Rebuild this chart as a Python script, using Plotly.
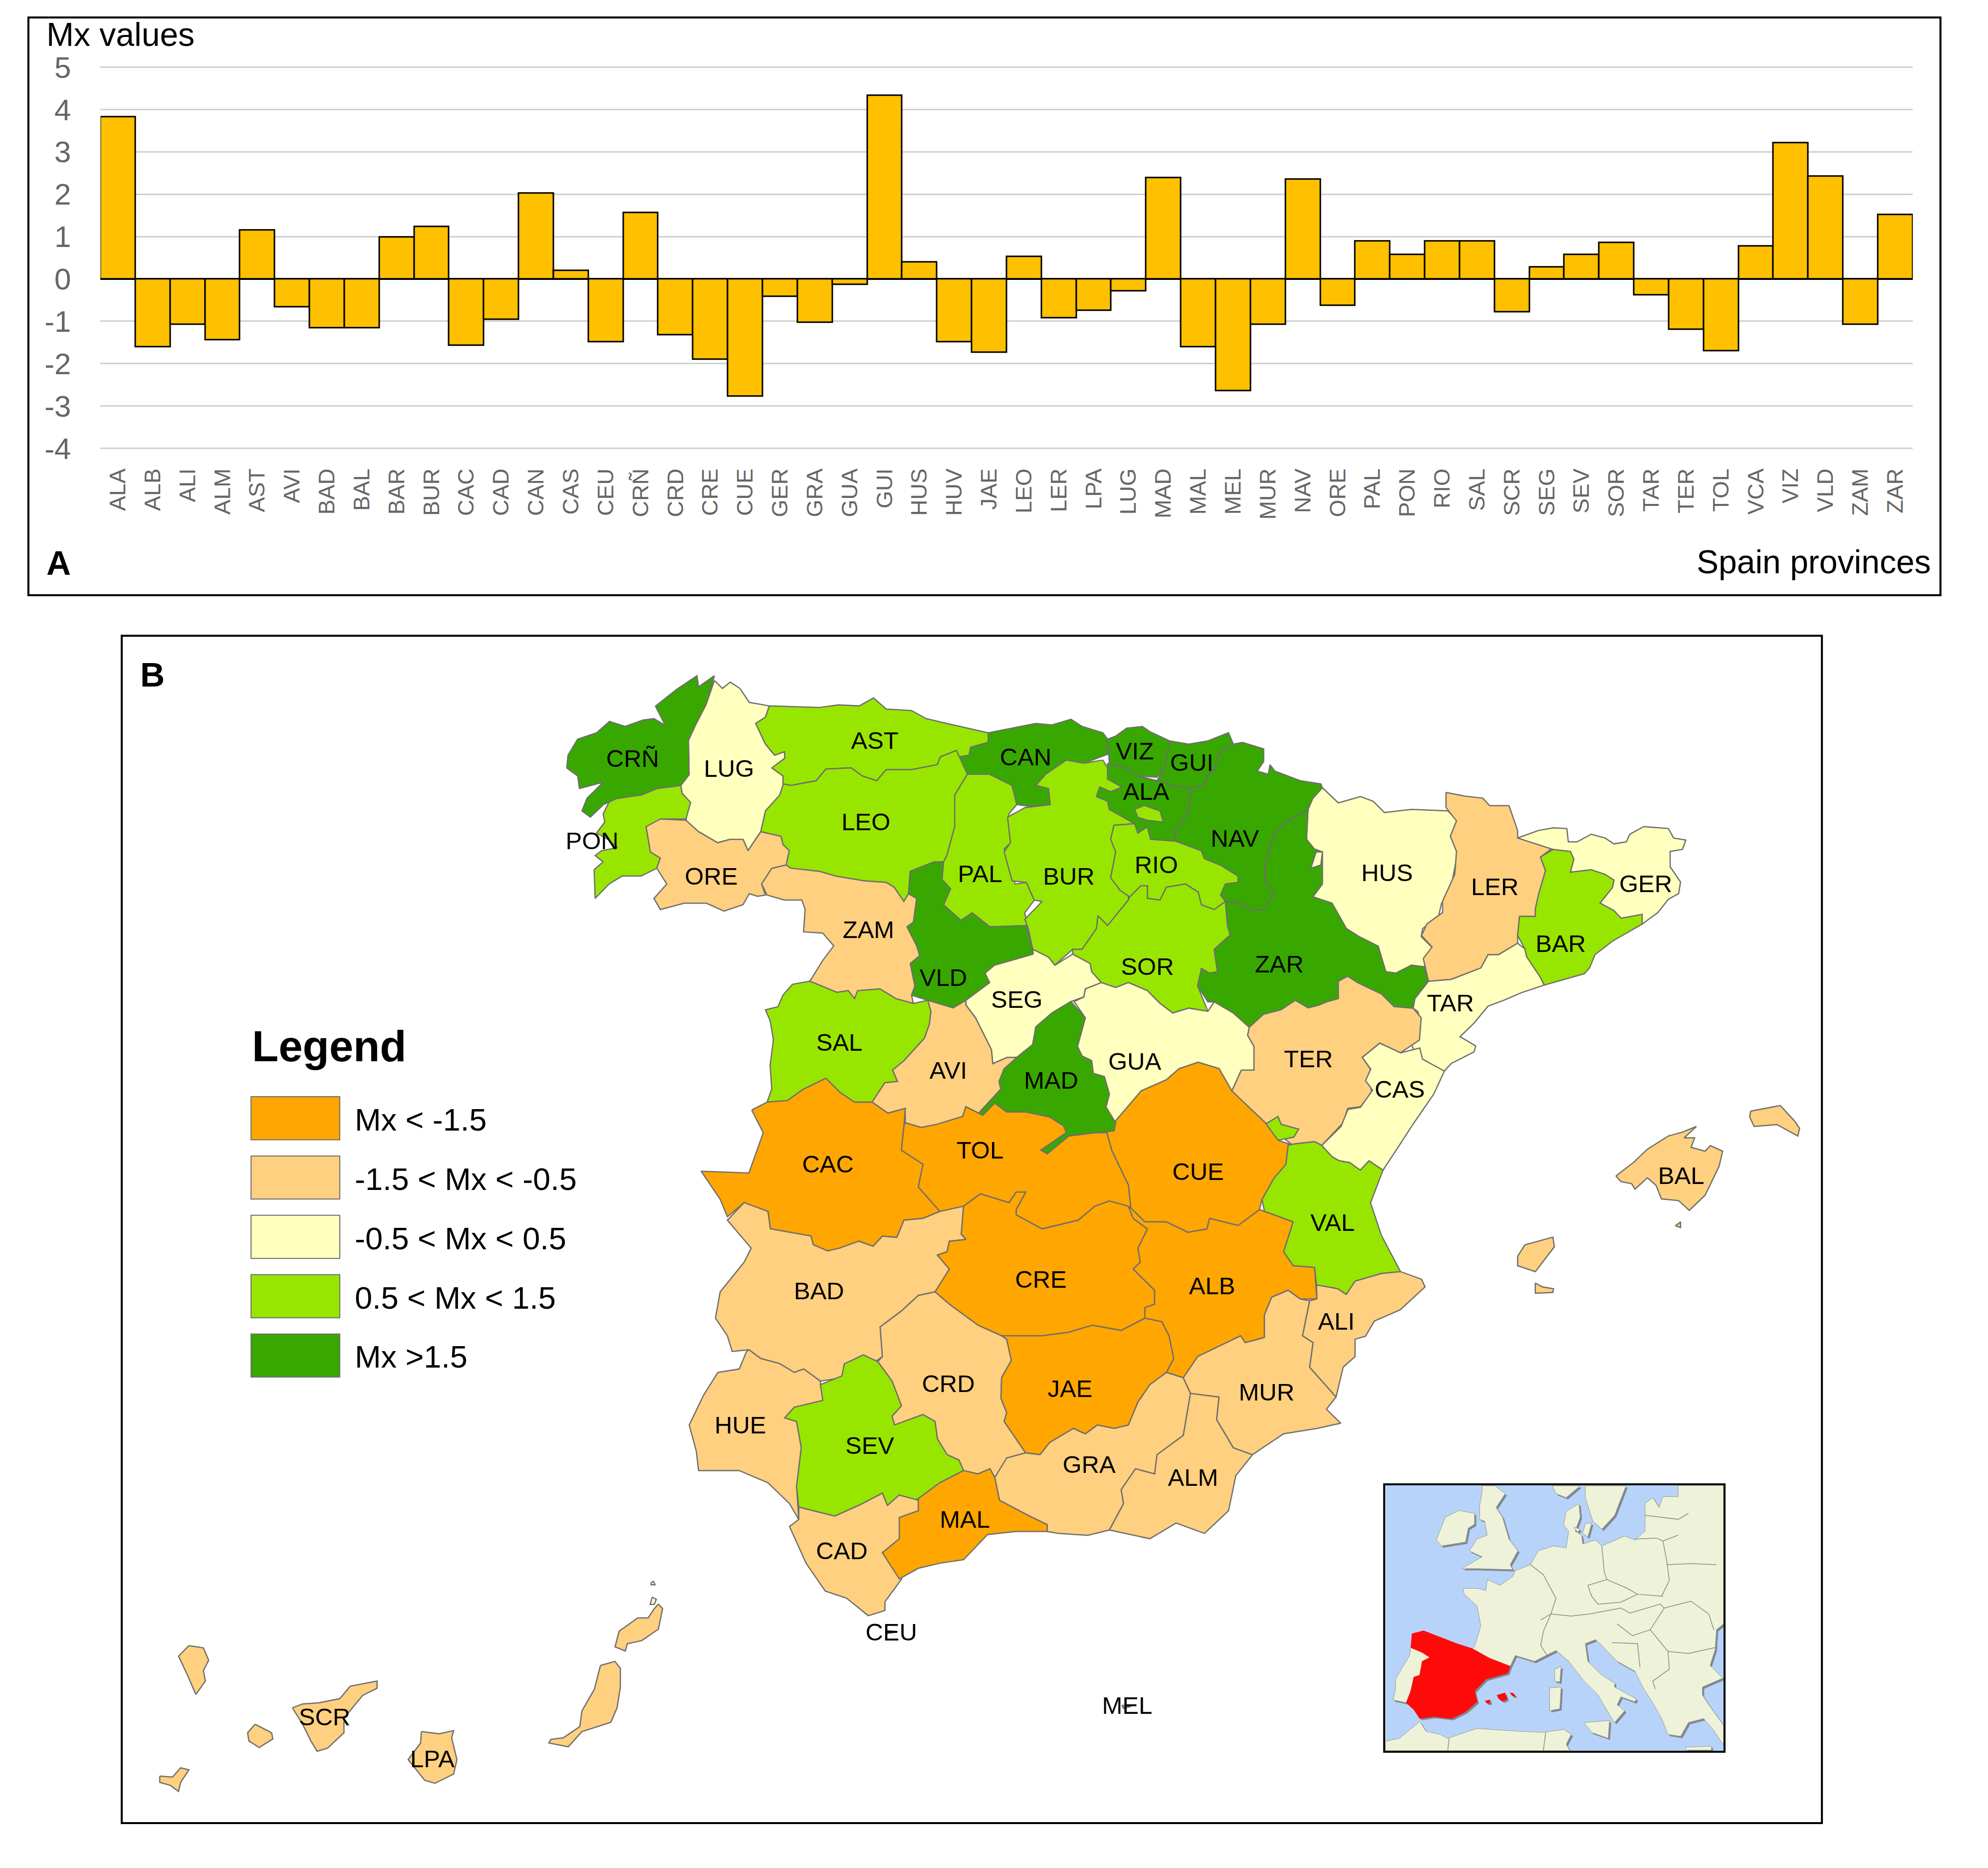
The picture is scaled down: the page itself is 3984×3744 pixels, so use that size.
import plotly.graph_objects as go

FONT = "Liberation Sans"

# Panel A: Mx value per province
PROVINCES = ["ALA", "ALB", "ALI", "ALM", "AST", "AVI", "BAD", "BAL", "BAR", "BUR", "CAC", "CAD", "CAN",
             "CAS", "CEU", "CRÑ", "CRD", "CRE", "CUE", "GER", "GRA", "GUA", "GUI", "HUS", "HUV", "JAE",
             "LEO", "LER", "LPA", "LUG", "MAD", "MAL", "MEL", "MUR", "NAV", "ORE", "PAL", "PON", "RIO",
             "SAL", "SCR", "SEG", "SEV", "SOR", "TAR", "TER", "TOL", "VCA", "VIZ", "VLD", "ZAM", "ZAR"]
MX_VALUES = [3.83, -1.60, -1.07, -1.44, 1.15, -0.66, -1.15, -1.15, 0.99, 1.24, -1.57, -0.95, 2.02,
             0.20, -1.48, 1.57, -1.32, -1.90, -2.77, -0.41, -1.03, -0.13, 4.33, 0.40, -1.48, -1.73,
             0.53, -0.92, -0.74, -0.28, 2.39, -1.60, -2.64, -1.07, 2.35, -0.62, 0.90, 0.58, 0.90,
             0.90, -0.78, 0.28, 0.58, 0.86, -0.38, -1.19, -1.70, 0.78, 3.21, 2.43, -1.07, 1.52]
Y_TICKS = [-4, -3, -2, -1, 0, 1, 2, 3, 4, 5]
Y_TICK_TEXT = ["-4", "-3", "-2", "-1", "0", "1", "2", "3", "4", "5"]

# Panel B: legend classes
LEGEND_LABELS = ["Mx < -1.5", "-1.5 < Mx < -0.5", "-0.5 < Mx < 0.5", "0.5 < Mx < 1.5", "Mx >1.5"]
LEGEND_COLORS = ["#FFA600", "#FFD07F", "#FFFFBE", "#98E600", "#38A800"]
CLASS_LIMITS = [-1.5, -0.5, 0.5, 1.5]

# Province outlines, digitised in map units
CRN = [(563.5,533),(557,555.5),(548.5,572),(543,584),(543.5,611),(537,619.5),(518,622),(506,627),(486,630),(476,634.6),(465.6,644.6),(459,639.6),(463,629.6),(475.7,617),(457,622),(455.6,612),(447,605.7),(448,595.7),(455.6,583),(470.6,578),(480.7,569),(493,573),(507,568),(515.8,566.8),(524.6,572),(517,557),(533.4,544),(549.7,533),(551,541.7)]
LUG = [(563.5,536.7),(569.8,543),(576,538),(583.6,543),(591,554),(606.7,556.8),(603.7,565.6),(596,570.6),(603.7,587),(611,595.7),(618.7,593),(619,598),(608.7,605.7),(617.5,612),(617.5,619.5),(615,627),(603.7,639.6),(600,656),(590,671),(586,662),(576,662),(566,664.7),(551,656),(541,649.7),(542,637),(544.7,633),(538,625.8),(537,619.5),(543.5,611),(543,584),(548.5,572),(557,555.5)]
PON = [(537,619.5),(538,625.8),(544.7,633),(541,646),(523.4,646),(509.6,652),(513,672),(520.8,676.8),(518,684.8),(505.8,691),(490.7,691),(480.7,697),(469.4,708.6),(468.6,686),(475.7,679.8),(469.4,674.8),(474.4,671),(487,668.5),(479.4,662),(470.6,657),(477,648.4),(475.7,642),(480.7,632),(487,628),(506,627),(518,622)]
ORE = [(509.6,652),(520.8,646),(541,647),(551,656),(566,664.7),(576,662),(586,662),(590,671),(600,656),(616,659.7),(617.5,666),(622.5,671),(620,682.3),(608.7,685),(600.7,697.3),(603.7,706),(597.4,707),(591,704.9),(586,713.6),(571,718.7),(557.2,712.4),(539.7,712.4),(520.8,717.4),(515.8,708.6),(525.9,697.3),(518,684.8),(520.8,676.8),(513,672)]
AST = [(606.7,556.8),(646.4,558),(661.4,556),(677.7,556.8),(689,550.5),(699,559.3),(719,560.5),(730.4,566.8),(746.8,570.6),(779.4,578),(779.4,585.6),(765.6,589.4),(764.3,595.7),(756.8,597),(754.3,591.9),(741.7,597),(739.2,603.2),(719,607),(699,607),(691.5,615.8),(680,612),(671.5,605.7),(651.4,606.5),(643.8,615.8),(623.8,619.5),(617.5,618.3),(617.5,612),(608.7,605.7),(619,598),(618.7,593),(611,595.7),(603.7,587),(596,570.6),(603.7,565.6)]
LEO = [(617.5,618.3),(623.8,619.5),(643.8,615.8),(651.4,606.5),(671.5,605.7),(680,612),(691.5,615.8),(699,607),(719,607),(739.2,603.2),(741.7,597),(754.3,591.9),(756.8,597),(763,610.7),(753,627),(753,652),(746.8,674.8),(744.2,679.8),(736.7,679.8),(717.9,687.3),(716.6,704.9),(712.9,711),(705.3,699.9),(699,696),(681.5,694.8),(659,691),(646.4,687.3),(623.8,684.8),(620,682.3),(622.5,671),(617.5,666),(616,659.7),(600,656),(603.7,639.6),(615,627)]
ZAM = [(620,682.3),(623.8,684.8),(646.4,687.3),(659,691),(681.5,694.8),(699,696),(705.3,699.9),(712.9,711),(716.6,704.9),(723,708.6),(720.4,727.5),(715.4,731),(723,746),(725.4,753.8),(718,760),(721.6,777.7),(719,785),(720.4,791.5),(706.6,787.7),(694,780),(676.5,781.4),(674,787.7),(669,781.4),(660,782.7),(638.8,773.9),(648.9,757.6),(657.6,746),(648.9,736),(633.8,735),(635,717.4),(632.5,709.9),(618.7,709.9),(605,706),(600.7,697.3),(608.7,685)]
VLD = [(717.9,687.3),(736.7,679.8),(744.2,679.8),(743,693.6),(749.7,701),(744.2,713.7),(758,726),(766.8,720),(780.6,731),(809.5,730),(815,752.6),(784.4,761.3),(776.9,767.6),(780.6,775),(761.8,789),(751.8,795),(731.7,789),(719,785),(721.6,777.7),(718,760),(725.4,753.8),(723,746),(715.4,731),(720.4,727.5),(723,708.6),(716.6,704.9)]
PAL = [(763,610.7),(780.6,610.7),(798.2,619.5),(802,634.6),(795.7,642),(797,664.7),(792,669.7),(800.7,697.3),(809.5,696),(815.8,710),(808.2,720),(810.8,731),(780.6,731),(766.8,720),(758,726),(744.2,713.7),(749.7,701),(743,693.6),(744.2,679.8),(746.8,674.8),(753,652),(753,627)]
CAN = [(779.4,578),(817,570.6),(829.7,571.8),(844.7,567.3),(853.5,573),(869.9,578),(873.6,583),(873.6,595),(854.8,602),(841,599.5),(824.7,610.7),(817,619.5),(827,622),(828.4,634.6),(812,636),(802,634.6),(798.2,619.5),(780.6,610.7),(763,610.7),(756.8,597),(764.3,595.7),(765.6,589.4),(779.4,585.6)]
BUR = [(869.9,599.5),(873.6,605.7),(873.6,614.5),(885,620.8),(876,624.6),(867.4,620.8),(864.8,628.3),(873.6,632),(875,638.4),(895,649.7),(878.6,650.9),(876,662),(880,672),(876,692.3),(883.6,702.4),(890,704.9),(890,709.9),(873.6,730),(866,722.4),(864.8,732.5),(853.5,748.8),(846,748.8),(832,761.3),(827,755),(814.6,748.8),(811,732.5),(808.4,725),(822,711),(815.8,710),(809.5,696),(798.3,694.8),(792,672),(797,664.7),(794.7,644.6),(808.4,637),(828.4,634.6),(827,622),(817,619.5),(824.7,610.7),(841,599.5),(854.8,602)]
RIO = [(878.6,650.9),(895,649.7),(897.4,657),(905,652.2),(907.5,662),(927.6,663.5),(947.6,671),(950,677.3),(962.7,682.3),(976.5,691),(976.5,696),(966.5,697.3),(962.7,706),(966.5,711),(957.7,717.4),(947.6,713.7),(945,703.6),(935,697.3),(920,699.8),(915,709.9),(905,708.6),(905,698.6),(900,698.6),(891,707.4),(883.6,702.4),(876,692.3),(880,672),(876,662)]
SOR = [(890,709.9),(891,707.4),(900,698.6),(905,698.6),(905,708.6),(915,709.9),(920,699.8),(935,697.3),(945,703.6),(947.6,713.7),(957.7,717.4),(966.5,711),(968.2,730),(970.3,737.5),(957.7,748.8),(960.2,766.4),(954,767.6),(947.6,763.9),(944.6,777.7),(952.7,797.7),(937.6,795.2),(925,799),(915,791.5),(905,781.4),(890,775),(880,778.9),(868.6,775),(861,766.4),(859.8,760),(846,752.6),(846,748.8),(853.5,748.8),(864.8,732.5),(866,722.4),(873.6,730)]
ALA = [(873.6,602),(887.4,605.7),(897.4,612),(912.5,615.8),(925,619.5),(939,622),(937.6,639.6),(926.4,656),(927.6,663.5),(907.5,662),(905,652.2),(897.4,657),(895,649.7),(875,638.4),(873.6,632),(864.8,628.3),(867.4,620.8),(876,624.6),(885,620.8),(873.6,614.5)]
TREVINO = [(895,638.4),(902.5,635.3),(915,639.6),(917.5,648.4),(905,647),(897.4,644.6)]
VIZ = [(873.6,583),(880,580.6),(888.7,574.4),(901,573),(907.5,577.4),(922.5,584.4),(919,604.5),(912.5,613),(897.4,612),(887.4,605.7),(875,602)]
GUI = [(922.5,584.4),(937.6,587),(952.7,584.4),(969,578),(972.8,587),(961.5,594.4),(957.7,607),(952.7,610.7),(950,618.3),(939,622),(925,619.5),(912.5,615.8),(919,604.5)]
NAV = [(972.8,587),(980,585.6),(996.7,590.7),(996.7,600.7),(991.6,608.2),(1000.4,610.7),(1001.7,603.2),(1005.5,608.2),(1025.5,615.8),(1041.8,618.3),(1043,621.3),(1035.5,629.6),(1031.7,638.4),(1014,648.4),(1005.4,657),(1001.6,669.7),(997.8,682.3),(997.8,694.8),(1005,704.9),(996.7,717.4),(987.8,717.9),(979,712.4),(966.5,711),(962.7,706),(966.5,697.3),(976.5,696),(976.5,691),(962.7,682.3),(950,677.3),(947.6,671),(927.6,663.5),(926.4,656),(937.6,639.6),(939,622),(950,618.3),(952.7,610.7),(957.7,607),(961.5,594.4)]
ZAR = [(1031.7,638.4),(1030.5,662),(1036.7,669.7),(1043,672),(1043,697.3),(1035.5,707.4),(1050.6,712.4),(1062,732.5),(1072,738.8),(1087,746.3),(1093,766.4),(1100.8,767.6),(1113.3,761.3),(1123.3,762.6),(1126.4,773.9),(1116,787.7),(1114.6,795.2),(1099.6,794),(1089.5,784),(1070.7,775),(1063,770),(1055.6,773.9),(1055.6,787.7),(1047,790),(1040.6,792.7),(1031.8,795),(1021.7,789),(1010.4,796.5),(996.6,800),(985.3,810.3),(972.7,799),(957.7,790.2),(952.7,790.2),(944.6,777.7),(947.6,763.9),(954,767.6),(960.2,766.4),(957.7,748.8),(970.3,737.5),(968.2,730),(966.5,711),(979,712.4),(987.8,717.9),(996.7,717.4),(1005,704.9),(997.8,694.8),(997.8,682.3),(1001.6,669.7),(1005.4,657),(1014,648.4)]
HUS = [(1043,621.3),(1055.6,633.3),(1073,628.3),(1083,632),(1092,640.9),(1113.3,638.4),(1142,639.6),(1149,647),(1144.7,659.7),(1149.8,672),(1143.5,704.9),(1137,712.4),(1134.7,722.4),(1122,732.5),(1121,738.8),(1129.7,747.5),(1123.3,762.6),(1113.3,761.3),(1100.8,767.6),(1093,766.4),(1087,746.3),(1072,738.8),(1062,732.5),(1050.6,712.4),(1035.5,707.4),(1043,697.3),(1043,672),(1036.7,669.7),(1030.5,662),(1031.7,638.4),(1035.5,629.6)]
HUS_ENCLAVE = [(1034,684.8),(1038,672),(1043,672),(1041.8,682.3)]
LER = [(1140.5,625),(1155.7,628),(1169.5,629.5),(1175,635.5),(1190.2,635.5),(1197,655),(1197,661),(1213.7,655),(1223.4,662.6),(1224.8,668.6),(1215,676),(1219,686.7),(1213.7,704.8),(1211,716.8),(1211,722.8),(1198.5,722.8),(1197,737.9),(1197,744),(1182,753),(1173.7,753),(1168,763.5),(1144.7,772.5),(1126.7,774),(1122.6,756),(1129.5,747),(1121.2,737.9),(1125.4,728.8),(1137.8,719.8),(1137.8,710.8),(1147.4,689.7),(1148.8,671.6),(1143.9,659.6),(1148.8,647.5),(1140.5,637)]
GER = [(1197,661),(1213.7,655),(1225,653),(1235.8,653.5),(1237,664),(1244,664),(1255,658),(1266,661),(1273,665.6),(1282.7,664),(1285.5,658),(1296.5,652),(1315.9,653.5),(1320,661),(1329.7,662.6),(1327,670),(1317.3,671.6),(1317.3,683.7),(1325.5,695.7),(1324,704.8),(1315.9,709.3),(1307.6,719.8),(1295.2,728.9),(1295.2,721.3),(1278.6,724.3),(1273,718.3),(1262,712.3),(1271.7,700.2),(1273,694.2),(1266,689.7),(1255,686),(1238.6,688),(1241.3,677.6),(1238.6,671.6),(1224.8,670)]
BAR = [(1215,676),(1224.8,670),(1238.6,671.6),(1241.3,677.6),(1238.6,688),(1255,686),(1266,689.7),(1273,694.2),(1271.7,700.2),(1262,712.3),(1273,718.3),(1278.6,724.3),(1295.2,721.3),(1295.2,728.9),(1271.7,742.4),(1258,753),(1253.7,763.5),(1249.6,768),(1217.9,777),(1215,771),(1204,754.5),(1202.7,748.4),(1197,737.9),(1198.5,722.8),(1211,722.8),(1211,716.8),(1213.7,704.8),(1219,686.7)]
TAR = [(1126.7,774),(1144.7,772.5),(1168,763.5),(1173.7,753),(1182,753),(1197,744),(1202.7,748.4),(1204,754.5),(1215,771),(1217.9,777),(1200,783),(1186,789),(1173.7,793.6),(1162.6,807),(1151.6,817.7),(1164,825),(1162.6,829.7),(1144.7,838.8),(1139.2,844.8),(1119.8,837.3),(1113,823.7),(1120.4,811.7),(1118.5,798),(1114.6,795.2),(1116,787.7)]
TER = [(985.3,810.3),(996.6,800),(1010.4,796.5),(1021.7,789),(1031.8,795),(1040.6,792.7),(1047,790),(1055.6,787.7),(1055.6,773.9),(1063,770),(1070.7,775),(1089.5,784),(1099.6,794),(1114.6,795.2),(1120.9,802.8),(1119.6,820.3),(1104.6,830.4),(1088.3,822.8),(1074.5,834),(1080.7,843),(1080.7,855.5),(1082,861.7),(1073,873),(1063,874.3),(1059.4,885.6),(1042.5,903.5),(1037,900.5),(1023,902),(1019,903),(998,885.6),(971.6,860.5),(979,844),(989,844),(989,825.3),(984,816.6)]
VAL_ADEMUZ = [(998,886.8),(1008,880.6),(1010.5,886.8),(1024.3,890.6),(1020.5,896.9),(1008,899.4),(1001.6,894.4)]
CAS = [(1074.5,834),(1088.3,822.8),(1104.6,830.4),(1119.8,826.6),(1122,835.4),(1139.2,844.8),(1130.9,862.9),(1122.6,875),(1114.3,887),(1104.6,902),(1090.8,923),(1079.8,915.6),(1072.9,923),(1064.6,917),(1056.3,915.6),(1050.8,912.6),(1042.5,903.5),(1057.7,888.5),(1063.2,875),(1073,873.4),(1082.6,859.9),(1077,852.3),(1081.2,843.3)]
VAL = [(1023.2,902),(1037,900.5),(1042.5,903.5),(1050.8,912.6),(1056.3,915.6),(1064.6,917),(1072.9,923),(1079.8,915.6),(1090.8,923),(1081,948.7),(1089.5,974.3),(1104.6,1003),(1089.5,1004.5),(1068.8,1010.5),(1061.9,1021),(1055,1016.5),(1038.4,1013.5),(1036.8,999.7),(1019.9,998.3),(1012.4,987.3),(1019.9,963.8),(997.3,955.5),(995.4,945.9),(1004.8,929.3),(1014.2,918.3),(1016,903)]
CUE = [(878.6,885.6),(900,860.5),(920,851.7),(930,842.9),(945,837.9),(961.5,842.9),(971.6,860.5),(998,885.6),(1008,899.4),(1019,903),(1016,903),(1014.2,918.3),(1004.8,929.3),(995.4,945.9),(993.5,954),(976.6,966.6),(954,961),(952,969.3),(937,972),(920,963.8),(903,963.8),(891.9,952.8),(890,934.8),(876.8,907.2),(873,893.4)]
GUA = [(868.6,775),(856,780),(854.8,786.4),(847.2,790),(856,802.8),(852.3,816.6),(849.8,825.4),(853.5,833),(861,836.6),(862.3,846.7),(871,849.2),(875,863),(872.3,873),(878.6,885.6),(884,884),(897.5,875.5),(900,860.5),(920,851.7),(930,842.9),(945,837.9),(961.5,842.9),(971.6,860.5),(979,844),(989,844),(989,825.3),(984,816.6),(985.3,810.3),(972.7,799),(957.7,790.2),(952.7,797.7),(937.6,795.2),(925,799),(915,791.5),(905,781.4),(890,775),(880,778.9)]
MAD = [(844.7,790),(856,802.8),(852.3,816.6),(849.8,825.4),(853.5,833),(861,836.6),(862.3,846.7),(871,849.2),(875,863),(872.3,873),(880,885.6),(878.7,892),(863.6,893.4),(843,896),(826,910),(821,907.2),(841,893.4),(839,888),(827.9,881),(809,877),(794,877),(784.6,870),(775,879.6),(771.9,878),(789.4,859),(788,853),(792,843),(802,834),(814.5,824),(817,810),(829.7,799)]
SEG = [(815,752.6),(814.6,748.8),(827,755),(832,761.3),(846,752.6),(859.8,760),(861,766.4),(868.6,775),(856,780),(854.8,786.4),(844.7,790),(829.7,799),(817,810),(814.5,824),(802,834),(794.5,834),(783,839),(782,828),(774.4,812.8),(769.4,802.8),(761.8,792.7),(761.8,789),(780.6,775),(776.9,767.6),(784.4,761.3)]
AVI = [(731.7,789),(751.8,795),(761.8,789),(761.8,792.7),(769.4,802.8),(774.4,812.8),(782,828),(783,839),(794.5,834),(800.7,834),(799.5,841.7),(792,843),(788,853),(789.4,859),(771.9,878),(761.8,873),(759.3,880.6),(739.2,886.8),(726.6,889.3),(714,885.6),(714,874.3),(700.3,878),(687.8,869.3),(697.8,854),(707.8,853),(704,844),(712.9,836.6),(729,819),(733,807.8),(734.2,797.7)]
SAL = [(638.8,773.9),(660,782.7),(669,781.4),(674,787.7),(676.5,781.4),(694,780),(706.6,787.7),(720.4,791.5),(731.7,789),(734.2,797.7),(733,807.8),(729,819),(712.9,836.6),(704,844),(707.8,853),(697.8,854),(687.8,869.3),(674,869.3),(662.7,861.8),(651.4,850.5),(633.8,859),(621.2,868),(605,869.3),(608.7,859),(607.4,840.4),(610,820),(607.4,805),(603.7,796.5),(613.7,794),(617.5,785),(625,776.4)]
CAC = [(592.9,875.6),(605,869.3),(621.2,868),(633.8,859),(651.4,850.5),(662.7,861.8),(674,869.3),(687.8,869.3),(700.3,878),(714,874.3),(713,887.9),(711,907.2),(728,918.3),(724.3,936.2),(741.3,955.5),(728,961),(713,962.4),(707.4,976),(696,975),(688.6,983),(677.3,979),(662.2,984.5),(652.8,986.7),(641.5,981.8),(639.6,974.9),(607.6,969.3),(605.7,955.5),(586.9,948.6),(573.7,959.7),(568,945.9),(553,923.8),(590.7,925.2),(602,893.4)]
TOL = [(713,887.9),(714,885.6),(726.6,889.3),(739.2,886.8),(759.3,880.6),(761.8,873),(771.9,878),(775,879.6),(784.6,870),(794,877),(809,877),(827.9,881),(839,888),(841,893.4),(821,907.2),(826,910),(843,896),(863.6,893.4),(873,893.4),(876.8,907.2),(890,934.8),(891.9,952.8),(875,947.3),(863.6,951.4),(850.5,962.4),(822,969.3),(801.5,958.3),(801.5,954),(809,940.3),(801.5,940.3),(795.9,948.6),(773.3,941.7),(760,951.4),(743,957),(741.3,955.5),(724.3,936.2),(728,918.3),(711,907.2)]
BAD = [(586.9,948.6),(605.7,955.5),(607.6,969.3),(639.6,974.9),(641.5,981.8),(652.8,986.7),(662.2,984.5),(677.3,979),(688.6,983),(696,975),(707.4,976),(713,962.4),(728,961),(741.3,955.5),(760,951.4),(758.2,973.5),(762,977.6),(748.8,979),(747,987.3),(739.4,990),(748.8,1001),(737.5,1019),(724.3,1021.8),(711,1034),(694.2,1046.6),(696,1070),(690.4,1074),(681,1068.7),(669.7,1074),(664,1086.7),(647,1089.4),(634,1079.8),(626.4,1082.5),(615,1075.6),(600,1071.5),(590.7,1064.6),(577.5,1066),(573.7,1053.6),(564.3,1039.7),(568,1019),(586.9,995.6),(592.5,984.5),(573.7,962.4)]
CRE = [(760,951.4),(773.3,941.7),(795.9,948.6),(801.5,940.3),(809,940.3),(801.5,954),(801.5,958.3),(822,969.3),(850.5,962.4),(863.6,951.4),(875,947.3),(890,951.4),(893.8,961),(905,969.3),(897.5,984.5),(899.4,995.6),(893.8,1001),(910.7,1017.7),(910.7,1028.7),(903,1031.5),(903,1039.7),(884.3,1049.4),(861.7,1045.3),(842.9,1050.8),(822.2,1053.6),(790,1053.6),(771.4,1045.3),(748.8,1028.7),(737.5,1019),(748.8,1001),(739.4,990),(747,987.3),(748.8,979),(762,977.6),(758.2,973.5)]
ALB = [(890,951.4),(891.9,952.8),(903,963.8),(920,963.8),(937,972),(952,969.3),(954,961),(976.6,966.6),(993.5,954),(997.3,955.5),(1019.9,963.8),(1012.4,987.3),(1019.9,998.3),(1036.8,999.7),(1038.7,1024.6),(1025.5,1024.6),(1016,1017.7),(1003,1023.2),(997.3,1037),(997.3,1055),(982.2,1059),(978.5,1053.6),(944.6,1070),(933.3,1086.7),(920,1082.5),(925.7,1071.5),(922,1053.6),(916.3,1042.5),(903,1039.7),(903,1031.5),(910.7,1028.7),(910.7,1017.7),(893.8,1001),(899.4,995.6),(897.5,984.5),(905,969.3),(893.8,961)]
JAE = [(790,1053.6),(822.2,1053.6),(842.9,1050.8),(861.7,1045.3),(884.3,1049.4),(903,1039.7),(916.3,1042.5),(922,1053.6),(925.7,1071.5),(920,1082.5),(906.9,1092.2),(897.5,1106),(890,1124),(878.7,1126.7),(865.5,1124),(856,1131),(846.7,1126.7),(827.9,1137.8),(820.3,1147.4),(809,1146),(792,1121.2),(794,1114.3),(789.5,1103),(790,1086.7),(797.7,1073),(794,1056.3)]
CRD = [(737.5,1019),(748.8,1028.7),(771.4,1045.3),(790,1053.6),(794,1056.3),(797.7,1073),(790,1086.7),(789.5,1103),(794,1114.3),(792,1121.2),(809,1146),(794,1150),(790,1158.5),(784.6,1165.4),(780.8,1158.5),(771.4,1162.6),(760,1159.9),(756.3,1151.6),(747,1147.4),(739.4,1135),(737.5,1121.2),(728,1115.7),(705.5,1124),(703.6,1117),(711,1108.8),(703.6,1089.4),(692.3,1074),(696,1070),(694.2,1046.6),(711,1034),(724.3,1021.8)]
SEV = [(669.7,1074),(681,1068.7),(692.3,1074),(703.6,1089.4),(711,1108.8),(703.6,1117),(705.5,1124),(728,1115.7),(737.5,1121.2),(739.4,1135),(747,1147.4),(756.3,1151.6),(760,1159.9),(741.3,1169.5),(724.3,1182),(714.9,1187.4),(709.3,1179.2),(699.9,1187.4),(696,1177.8),(677.3,1187.4),(658.4,1195.8),(630,1188.8),(628.3,1172.3),(632,1142),(628.3,1121.2),(618.9,1118.4),(626.4,1110),(649,1104.6),(647,1092.2),(664,1085.3),(666,1075.6)]
HUE = [(590.7,1064.6),(600,1071.5),(615,1075.6),(626.4,1082.5),(634,1079.8),(647,1089.4),(649,1104.6),(626.4,1110),(618.9,1118.4),(628.3,1121.2),(632,1142),(628.3,1172.3),(630,1198.5),(622.7,1186),(605.7,1169.5),(583,1159.9),(551,1159.9),(549.2,1144.7),(543.6,1124),(554.9,1100.5),(566.2,1082.5),(583.1,1079.8),(588.8,1066)]
CAD = [(630,1188.8),(658.4,1195.8),(677.3,1187.4),(696,1177.8),(699.9,1187.4),(709.3,1179.2),(724.3,1183.3),(724.3,1191.6),(709.3,1197),(709.3,1213.7),(696,1224.7),(703.6,1230.2),(711.2,1245.4),(698,1263.4),(698,1270.3),(684.8,1274.4),(667.8,1260.6),(650.9,1255),(635.8,1233),(632,1224.7),(622.7,1204),(630,1198.5)]
MAL = [(760,1159.9),(771.4,1162.6),(780.8,1158.5),(784.6,1165.4),(788.3,1183.3),(809,1194.3),(826,1202.6),(826,1208),(801.5,1208),(778.9,1210.4),(760,1230.2),(741.3,1233),(724.3,1237),(709.3,1245.4),(696,1224.7),(709.3,1213.7),(709.3,1197),(724.3,1191.6),(724.3,1182),(741.3,1169.5)]
GRA = [(784.6,1165.4),(794,1150),(809,1146),(820.3,1147.4),(827.9,1137.8),(846.7,1126.7),(856,1131),(865.5,1124),(878.7,1126.7),(890,1124),(897.5,1106),(906.9,1092.2),(920,1082.5),(933.3,1086.7),(939,1099),(933.3,1132.2),(912.6,1147.4),(910.7,1162.6),(895.6,1158.5),(884.3,1175),(886.2,1186),(875,1206.8),(858,1211),(835.4,1209.5),(826,1208),(826,1202.6),(809,1194.3),(788.3,1183.3)]
ALM = [(939,1099),(961.5,1101.9),(959.6,1119.8),(972.8,1141.9),(987.9,1147.4),(974.7,1164),(969,1191.6),(950,1209.5),(927.6,1201.3),(906.9,1213.7),(875,1206.8),(886.2,1186),(884.3,1175),(895.6,1158.5),(910.7,1162.6),(912.6,1147.4),(933.3,1132.2)]
MUR = [(933.3,1086.7),(944.6,1070),(978.5,1053.6),(982.2,1059),(997.3,1055),(997.3,1037),(1003,1023.2),(1016,1017.7),(1025.5,1024.6),(1033,1026),(1027.4,1053.6),(1035.7,1059),(1033,1078.4),(1053.8,1101.9),(1046.2,1111.5),(1057.5,1122.6),(1038.7,1126.7),(1012.4,1130.9),(987.9,1147.4),(972.8,1141.9),(959.6,1119.8),(961.5,1101.9),(939,1099)]
ALI = [(1038.4,1013.5),(1055,1016.5),(1061.9,1021),(1068.8,1010.5),(1089.5,1004.5),(1104.6,1003),(1121.2,1009),(1124,1015),(1104.6,1033),(1084,1042),(1077,1054),(1068.8,1056.3),(1068.8,1070),(1059.4,1078.4),(1053.8,1101.9),(1033,1078.4),(1035.7,1059),(1027.4,1053.6),(1033,1026),(1038.7,1024.6)]
CEU = [(699,1286),(708,1287),(700,1288.5)]
MEL = [(885,1345),(892,1346),(886,1347.5)]
BAL_MALLORCA = [(1274.5,927.6),(1288.3,917),(1299.3,906.5),(1315.9,896),(1326.9,893),(1338,888.5),(1328.3,897.5),(1336.6,897.5),(1333.8,905),(1344.9,908),(1349,903.6),(1358.7,908),(1355.9,920),(1344.9,942.7),(1332.4,954.7),(1324,947),(1310.4,945.7),(1306.2,935),(1299.3,929),(1289.6,938),(1287,933.7),(1278.6,932)]
BAL_MENORCA = [(1380.8,876.4),(1404.2,872),(1415.3,884),(1419.4,890),(1418,896),(1401.5,887),(1383.5,888.5),(1380,881)]
BAL_IBIZA = [(1197,990.9),(1202.7,981.9),(1224.8,975.8),(1226,983.4),(1211,1003),(1197,998.4)]
BAL_FORMENTERA = [(1210.9,1012),(1216.5,1015),(1225.3,1016.5),(1224.8,1019.5),(1211,1020)]
BAL_CABRERA = [(1321.4,966.8),(1325.5,963.8),(1325.5,968.3)]
SCR_LA_PALMA = [(149,1298),(160.4,1299.8),(164.6,1309.6),(160.4,1317.7),(162,1325.9),(154.5,1336.5),(147.3,1320),(140.8,1306.3)]
SCR_HIERRO = [(126,1400.9),(136,1401.7),(142.5,1394.4),(149,1396),(142.5,1405.8),(140.8,1413),(134.3,1408.2),(126,1405.8)]
SCR_GOMERA = [(201.2,1360),(214.2,1366.7),(215.2,1371.6),(204.4,1378.4),(196.3,1373.2),(195.3,1366.7)]
SCR_TENERIFE = [(230.6,1347),(238.7,1344),(251.8,1343),(268,1339.8),(276.2,1330),(297.4,1325.9),(297.4,1331.6),(286,1337.3),(271.3,1355.2),(271.3,1366.7),(258.3,1378.9),(250.1,1381.3),(245.2,1373.2),(238.7,1360)]
LPA_GRAN_CANARIA = [(332.4,1365.8),(346.4,1367.5),(357.8,1365),(356.2,1370.7),(360.4,1387.9),(357.8,1399.3),(343.1,1406.6),(335,1404.2),(321.9,1387.9),(331.7,1374.8)]
LPA_FUERTEVENTURA = [(473.6,1313.6),(485,1310.4),(489.3,1316),(489.3,1330.8),(486.7,1347),(481.8,1358.5),(459,1365.8),(448.2,1377.8),(432.9,1374.8),(434.5,1371.9),(444.3,1370.7),(457.3,1361.8),(459,1349.5),(468.8,1332.4)]
LPA_LANZAROTE = [(519.3,1265.2),(522.6,1268.8),(519.3,1285),(506.3,1294),(494.8,1296.5),(493.2,1302.2),(485.1,1299),(488.3,1286.7),(503,1276.1),(511.2,1276.1),(516.1,1268.8)]
GRACIOSA = [(514.4,1259.8),(517.7,1261.5),(516,1265.5),(512.8,1265.5)]
ALEGRANZA = [(513.5,1248.4),(515.4,1247.3),(516.7,1250),(513.5,1250)]

# draw order: (outline, code used to look up the Mx value)
MAP_PARTS = [
    (HUS, "HUS"), (AST, "AST"), (LEO, "LEO"), (LUG, "LUG"), (PON, "PON"), (ORE, "ORE"), (CRN, "CRÑ"),
    (ZAM, "ZAM"), (PAL, "PAL"), (VLD, "VLD"), (CAN, "CAN"), (BUR, "BUR"), (RIO, "RIO"), (SOR, "SOR"),
    (ZAR, "ZAR"), (HUS_ENCLAVE, "HUS"), (NAV, "NAV"), (VIZ, "VIZ"), (GUI, "GUI"), (ALA, "ALA"), (TREVINO, "BUR"),
    (LER, "LER"), (GER, "GER"), (BAR, "BAR"), (TAR, "TAR"), (TER, "TER"), (CAS, "CAS"), (VAL, "VCA"), (VAL_ADEMUZ, "VCA"),
    (GUA, "GUA"), (CUE, "CUE"), (SEG, "SEG"), (AVI, "AVI"), (SAL, "SAL"), (CAC, "CAC"), (TOL, "TOL"), (MAD, "MAD"),
    (BAD, "BAD"), (CRE, "CRE"), (ALB, "ALB"), (CRD, "CRD"), (JAE, "JAE"), (HUE, "HUV"), (SEV, "SEV"), (CAD, "CAD"),
    (GRA, "GRA"), (ALM, "ALM"), (MUR, "MUR"), (ALI, "ALI"), (MAL, "MAL"), (CEU, "CEU"), (MEL, "MEL"),
    (BAL_MALLORCA, "BAL"), (BAL_MENORCA, "BAL"), (BAL_IBIZA, "BAL"), (BAL_FORMENTERA, "BAL"), (BAL_CABRERA, "BAL"),
    (SCR_LA_PALMA, "SCR"), (SCR_HIERRO, "SCR"), (SCR_GOMERA, "SCR"), (SCR_TENERIFE, "SCR"),
    (LPA_GRAN_CANARIA, "LPA"), (LPA_FUERTEVENTURA, "LPA"), (LPA_LANZAROTE, "LPA"), (GRACIOSA, "GER"), (ALEGRANZA, "GER"),
]

MAP_LABELS = ["CRÑ", "LUG", "PON", "AST", "CAN", "VIZ", "GUI", "ALA", "NAV", "HUS", "LER", "GER", "LEO", "PAL", "BUR", "RIO",
              "ORE", "ZAM", "VLD", "SOR", "ZAR", "BAR", "SEG", "TAR", "SAL", "AVI", "MAD", "GUA", "TER", "CAS", "CAC", "TOL",
              "CUE", "VAL", "BAL", "BAD", "CRE", "ALB", "ALI", "CRD", "JAE", "MUR", "HUE", "SEV", "GRA", "ALM", "MAL", "CAD",
              "CEU", "MEL", "SCR", "LPA"]
MAP_LABEL_X = [499, 575, 467, 690, 809, 895, 940, 904, 974, 1094, 1179, 1298, 683, 773, 843, 912,
               561, 685, 744, 905, 1009, 1231, 802, 1144, 662, 748, 829, 895, 1032, 1104, 653, 773,
               945, 1051, 1326, 646, 821, 956, 1054, 748, 844, 999, 584, 686, 859, 941, 761, 664,
               703, 889, 256, 341]
MAP_LABEL_Y = [600, 608, 665, 586, 599, 594, 603, 626, 663, 690, 701, 699, 650, 691, 693, 684,
               693, 735, 773, 764, 762, 746, 790, 793, 824, 846, 854, 839, 837, 861, 920, 909,
               926, 966, 929, 1020, 1011, 1016, 1044, 1093, 1097, 1100, 1126, 1142, 1157, 1167, 1200, 1225,
               1289, 1347, 1356, 1389]

# Inset locator map, in its own units
EUROPE = [(455,590),(510,590),(545,600),(550,545),(600,575),(650,530),(660,500),(720,470),(750,400),(810,375),(860,385),(870,300),(850,270),(860,200),(910,160),(915,230),(895,300),(920,320),(925,365),(975,345),(1000,375),(1090,325),(1130,345),(1170,300),(1170,160),(1200,130),(1225,180),(1240,125),(1300,125),(1300,68),(1478,68),(1478,770),(1450,800),(1445,900),(1425,980),(1475,1045),(1395,1090),(1395,1130),(1420,1180),(1478,1285),(1478,1385),(1440,1310),(1400,1250),(1340,1270),(1310,1340),(1260,1330),(1235,1250),(1200,1170),(1165,1100),(1130,1010),(1060,960),(1000,880),(975,850),(935,870),(945,960),(1000,1030),(1050,1070),(1050,1090),(1135,1150),(1130,1165),(1075,1140),(1060,1180),(1090,1210),(1050,1270),(1030,1230),(985,1130),(930,1060),(870,960),(820,905),(780,930),(735,960),(660,930),(640,985),(560,945),(490,895),(500,885),(525,780),(510,680),(460,620)]
BRITAIN = [(530,70),(580,70),(620,110),(585,180),(610,230),(635,340),(670,400),(640,470),(650,495),(510,490),(450,490),(530,430),(480,400),(510,340),(550,320),(540,250),(520,240),(520,170),(530,100)]
IRELAND = [(350,345),(385,230),(440,195),(500,210),(500,265),(475,285),(465,355),(370,375)]
SWEDEN = [(935,70),(1095,70),(1050,220),(1000,290),(965,250),(935,130)]
NORWAY = [(805,70),(915,70),(860,130),(820,110)]
ZEALAND = [(935,260),(960,260),(945,330),(925,310)]
FUNEN = [(890,280),(915,290),(905,305)]
SICILY = [(930,1270),(1030,1260),(1025,1350),(960,1320)]
SARDINIA = [(795,1095),(840,1090),(835,1200),(795,1210)]
CORSICA = [(815,1000),(840,985),(835,1065),(815,1060)]
CRETE = [(1330,1395),(1430,1390),(1430,1410),(1330,1410)]
AFRICA = [(150,1365),(205,1350),(285,1265),(310,1315),(365,1330),(395,1350),(510,1300),(680,1315),(770,1320),(850,1305),(880,1330),(860,1380),(875,1413),(150,1413)]
PORTUGAL = [(250,890),(295,915),(325,940),(295,960),(285,1030),(262,1040),(250,1110),(232,1170),(180,1155),(190,1100),(190,1050),(245,930)]
SPAIN = [(255,820),(300,805),(340,825),(430,870),(490,895),(560,945),(640,985),(630,1020),(545,1050),(500,1110),(510,1165),(465,1215),(410,1250),(340,1240),(285,1250),(262,1205),(232,1170),(250,1110),(262,1040),(285,1030),(295,960),(325,940),(295,915),(250,890)]
INSET_MALLORCA = [(588,1132),(620,1120),(628,1152),(610,1162),(596,1150)]
INSET_MENORCA = [(640,1120),(652,1122),(662,1138),(648,1134)]
INSET_IBIZA = [(543,1160),(562,1156),(560,1172),(548,1172)]
INSET_LAND = [EUROPE, BRITAIN, IRELAND, SWEDEN, NORWAY, ZEALAND, FUNEN, SICILY, SARDINIA, CORSICA, CRETE, AFRICA, PORTUGAL]
INSET_RED = [SPAIN, INSET_MALLORCA, INSET_MENORCA, INSET_IBIZA]
INSET_BORDERS = [
    [(720,470),(770,520),(820,640),(800,720),(770,810),(760,880),(785,930)],
    [(760,750),(800,720),(880,730),(950,720),(1075,690)],
    [(1000,375),(1010,510),(1020,545)],
    [(945,575),(1020,545),(1100,590),(1140,620),(1240,630)],
    [(945,575),(960,630),(985,670),(1075,660),(1140,620)],
    [(1240,350),(1255,450),(1265,550),(1235,630)],
    [(1170,220),(1300,240),(1340,210)],
    [(1130,340),(1215,335),(1240,350),(1300,320)],
    [(1255,470),(1350,465),(1450,470)],
    [(1075,690),(1110,715),(1230,670),(1245,690)],
    [(1245,690),(1350,655),(1420,720),(1440,800)],
    [(1260,910),(1340,920),(1445,890)],
    [(1060,770),(1120,830),(1190,800),(1245,690)],
    [(1190,800),(1260,910),(1265,1000),(1200,1060),(1210,1100)],
    [(1040,865),(1140,870),(1150,990)],
    [(400,1350),(395,1413)],
    [(780,1320),(770,1413)],
]
INSET_X_RANGE = [150, 1478]
INSET_Y_RANGE = [1413, 68]

# page geometry in map units (one unit is 3984/1568 px); the page body adds an 8 px margin
PAGE_W = 1568
PAGE_H = 1473.4
SCALE = 3984 / PAGE_W
BODY = 8 / SCALE


def mx_color(code):
    mx = MX_VALUES[PROVINCES.index(code)]
    for limit, color in zip(CLASS_LIMITS, LEGEND_COLORS):
        if mx < limit:
            return color
    return LEGEND_COLORS[-1]


def polygon(outline, fill, line_color, line_width, xaxis, yaxis, shift=(0, 0)):
    xs = [p[0] + shift[0] for p in outline] + [outline[0][0] + shift[0]]
    ys = [p[1] + shift[1] for p in outline] + [outline[0][1] + shift[1]]
    return go.Scatter(x=xs, y=ys, mode="lines", fill="toself", fillcolor=fill, xaxis=xaxis, yaxis=yaxis,
                      line=dict(color=line_color, width=line_width), hoverinfo="skip", showlegend=False)


fig = go.Figure()

# bar chart
fig.add_trace(go.Bar(x=PROVINCES, y=MX_VALUES, width=1, marker=dict(color="#FFC000", line=dict(color="black", width=3)),
                     showlegend=False, hoverinfo="skip"))

# map
for outline, code in MAP_PARTS:
    fig.add_trace(polygon(outline, mx_color(code), "#6E6E6E", 2.5, "x2", "y2"))
fig.add_trace(go.Scatter(x=MAP_LABEL_X, y=MAP_LABEL_Y, text=MAP_LABELS, mode="text", xaxis="x2", yaxis="y2",
                         textfont=dict(family=FONT, size=49, color="black"), hoverinfo="skip", showlegend=False))

# inset, land has a soft drop shadow over the sea
sea = [(INSET_X_RANGE[0], INSET_Y_RANGE[0]), (INSET_X_RANGE[1], INSET_Y_RANGE[0]),
       (INSET_X_RANGE[1], INSET_Y_RANGE[1]), (INSET_X_RANGE[0], INSET_Y_RANGE[1])]
fig.add_trace(polygon(sea, "#B8D3FA", "#B8D3FA", 0, "x3", "y3"))
for outline in INSET_LAND + INSET_RED:
    fig.add_trace(polygon(outline, "#7F8794", "#7F8794", 0, "x3", "y3", shift=(7, 9)))
for outline in INSET_LAND:
    fig.add_trace(polygon(outline, "#EEF2D8", "#9A9A88", 1, "x3", "y3"))
for outline in INSET_RED:
    fig.add_trace(polygon(outline, "#FF0A0A", "#FF0A0A", 1, "x3", "y3"))
for border in INSET_BORDERS:
    fig.add_trace(go.Scatter(x=[p[0] for p in border], y=[p[1] for p in border], mode="lines", xaxis="x3", yaxis="y3",
                             line=dict(color="#8C8C80", width=1.5), hoverinfo="skip", showlegend=False))


def map_x(v):
    return (v - BODY) / PAGE_W


def map_y(v):
    return 1 - (v - BODY) / PAGE_H


shapes = [
    dict(type="rect", xref="paper", yref="paper", x0=map_x(22.4), x1=map_x(1530.5), y0=map_y(13.8), y1=map_y(469.5),
         line=dict(color="black", width=4)),
    dict(type="rect", xref="paper", yref="paper", x0=map_x(96), x1=map_x(1437), y0=map_y(501.5), y1=map_y(1438),
         line=dict(color="black", width=4)),
]
annotations = [
    dict(text="Mx values", x=map_x(36), y=map_y(27), xanchor="left", font=dict(size=66)),
    dict(text="Spain provinces", x=map_x(1524), y=map_y(443), xanchor="right", font=dict(size=66)),
    dict(text="<b>A</b>", x=map_x(36), y=map_y(444), xanchor="left", font=dict(size=68)),
    dict(text="<b>B</b>", x=map_x(110), y=map_y(532), xanchor="left", font=dict(size=68)),
    dict(text="<b>Legend</b>", x=map_x(198), y=map_y(825), xanchor="left", font=dict(size=87)),
]
for i, (label, color) in enumerate(zip(LEGEND_LABELS, LEGEND_COLORS)):
    top = 865 + i * 46.8
    shapes.append(dict(type="rect", xref="paper", yref="paper", x0=map_x(198), x1=map_x(268), y0=map_y(top), y1=map_y(top + 34),
                       fillcolor=color, line=dict(color="#6E6E6E", width=2)))
    annotations.append(dict(text=label, x=map_x(279), y=map_y(top + 18), xanchor="left", font=dict(size=63)))
for a in annotations:
    a.update(xref="paper", yref="paper", showarrow=False, yanchor="middle")
    a["font"].update(family=FONT, color="black")

fig.update_layout(
    width=3984, height=3744, margin=dict(l=0, r=0, t=0, b=0, autoexpand=False), paper_bgcolor="white", plot_bgcolor="rgba(0,0,0,0)",
    bargap=0, shapes=shapes, annotations=annotations, showlegend=False,
    xaxis=dict(domain=[map_x(79.3), map_x(1508.7)], tickangle=-90, type="category", categoryorder="array", categoryarray=PROVINCES,
               tickmode="array", tickvals=PROVINCES, ticks="", showgrid=False, zeroline=False, showline=False, ticklabelstandoff=28,
               tickfont=dict(family=FONT, size=45, color="#666666"), anchor="y", automargin=False),
    # range runs a little past the end ticks, otherwise plotly drops their gridlines
    yaxis=dict(domain=[map_y(354.6), map_y(52)], range=[-4.03, 5.03], tickmode="array", tickvals=Y_TICKS, ticktext=Y_TICK_TEXT, ticks="",
               gridcolor="#D0D0D0", gridwidth=3, zeroline=True, zerolinecolor="black", zerolinewidth=4, showline=False,
               ticklabelstandoff=58, tickfont=dict(family=FONT, size=60, color="#666666"), anchor="x", automargin=False),
    xaxis2=dict(domain=[0, 1], range=[BODY, PAGE_W + BODY], visible=False, anchor="y2", fixedrange=True, automargin=False),
    yaxis2=dict(domain=[0, 1], range=[PAGE_H + BODY, BODY], visible=False, anchor="x2", fixedrange=True, automargin=False),
    xaxis3=dict(domain=[map_x(1092.7), map_x(1359.4)], range=INSET_X_RANGE, anchor="y3", showticklabels=False, ticks="",
                showgrid=False, zeroline=False, showline=True, mirror=True, linecolor="black", linewidth=4, automargin=False),
    yaxis3=dict(domain=[map_y(1380.9), map_y(1171.6)], range=INSET_Y_RANGE, anchor="x3", showticklabels=False, ticks="",
                showgrid=False, zeroline=False, showline=True, mirror=True, linecolor="black", linewidth=4, automargin=False),
)

fig.write_html("out.html")
